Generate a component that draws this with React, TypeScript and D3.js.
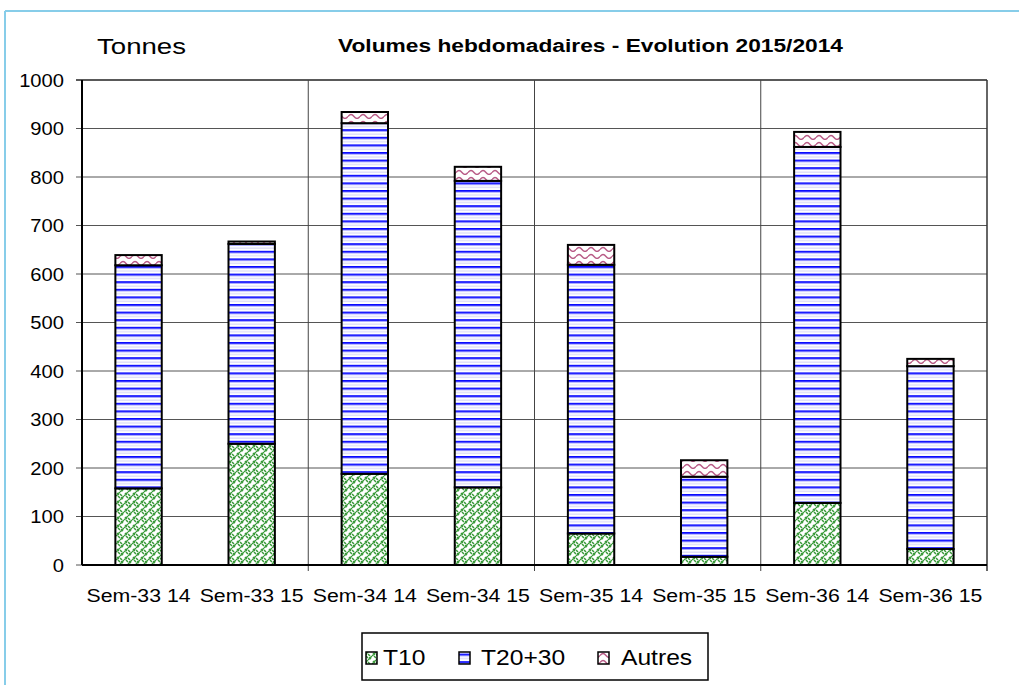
import React from "react";
import * as d3 from "d3";

const categories = ["Sem-33 14", "Sem-33 15", "Sem-34 14", "Sem-34 15", "Sem-35 14", "Sem-35 15", "Sem-36 14", "Sem-36 15"];
const t10 = [158, 250, 188, 160, 65, 17, 128, 33];
const t2030 = [460, 412, 723, 632, 554, 165, 734, 377];
const autres = [21, 5, 23, 29, 41, 34, 31, 15];
const seriesNames = ["T10", "T20+30", "Autres"];
const yTicks = [0, 100, 200, 300, 400, 500, 600, 700, 800, 900, 1000];
const titleText = "Volumes hebdomadaires - Evolution 2015/2014";
const unitText = "Tonnes";

const W = 1019;
const H = 685;
const left = 82, right = 987, top = 80, bottom = 565;
const FONT = "Arial, 'Liberation Sans', sans-serif";
const SX = 1.12;

export default function App() {
  const x = d3.scaleBand<string>().domain(categories).range([left, right]).paddingInner(0.59).paddingOuter(0.295);
  const y = d3.scaleLinear().domain([0, 1000]).range([bottom, top]);
  const step = x.step();
  const series = [t10, t2030, autres];
  const fills = ["url(#pT10)", "url(#pT20)", "url(#pAut)"];
  const stacks = categories.map((c, i) => {
    let acc = 0;
    return series.map((s, k) => {
      const y0 = acc;
      acc += s[i];
      return { k, y0, y1: acc };
    });
  });
  const vLines = [2, 4, 6].map((i) => (x(categories[i]) as number) - (step * x.paddingInner()) / 2);
  const sText = (tx: number, ty: number) => `translate(${tx},${ty}) scale(${SX},1)`;

  const legendItems = [
    { sx: 366, tx: 383 },
    { sx: 459, tx: 481 },
    { sx: 598, tx: 621 },
  ];

  return (
    <svg width={W} height={H} style={{ position: "absolute", left: 0, top: 0, background: "#fff" }}>
      <defs>
        <pattern id="pT10" patternUnits="userSpaceOnUse" width="8" height="8">
          <rect width="8" height="8" fill="#fff" />
          <path d="M0,4 L4,0 M4,8 L8,4 M1,1 L3,3 M5,5 L7,7 M6,0 L8,2 M0,6 L2,8" stroke="#3a9a3a" strokeWidth="1.5" fill="none" />
        </pattern>
        <pattern id="pT20" patternUnits="userSpaceOnUse" width="8" height="7.6">
          <rect width="8" height="7.6" fill="#fff" />
          <rect y="0" width="8" height="1.8" fill="#0a0aff" />
          <rect y="1.8" width="8" height="0.8" fill="#9a9aff" />
          <rect y="4.4" width="8" height="1" fill="#d0d0f6" />
        </pattern>
        <pattern id="pAut" patternUnits="userSpaceOnUse" width="12" height="7">
          <rect width="12" height="7" fill="#fff" />
          <path d="M0,4.5 Q3,0.5 6,4.5 T12,4.5" stroke="#b85a86" strokeWidth="1.3" fill="none" />
        </pattern>
      </defs>

      {/* outer border */}
      <line x1={5} y1={11} x2={W} y2={11} stroke="#87cde9" strokeWidth={2} />
      <line x1={5} y1={11} x2={5} y2={H} stroke="#87cde9" strokeWidth={2} />

      {/* titles */}
      <text x={97} y={54} fontFamily={FONT} fontSize={22} textLength={89} lengthAdjust="spacingAndGlyphs" fill="#000">{unitText}</text>
      <text x={338} y={52} fontFamily={FONT} fontSize={18} fontWeight="bold" textLength={505} lengthAdjust="spacingAndGlyphs" fill="#000">{titleText}</text>

      {/* horizontal gridlines */}
      {yTicks.map((t) => (
        <g key={t}>
          <line x1={left - 6} x2={right} y1={y(t)} y2={y(t)} stroke={t === 1000 ? "#222" : "#555"} strokeWidth={t === 1000 ? 1.5 : 1} />
          <text transform={sText(64, y(t) + 6.5)} textAnchor="end" fontFamily={FONT} fontSize={18} fill="#000">{t}</text>
        </g>
      ))}
      {/* vertical gridlines */}
      {vLines.map((vx, i) => (
        <line key={i} x1={vx} x2={vx} y1={top} y2={bottom + 6} stroke="#444" strokeWidth={1} />
      ))}
      <line x1={right} x2={right} y1={top} y2={bottom + 6} stroke="#333" strokeWidth={1.5} />

      {/* bars */}
      {categories.map((c, i) => (
        <g key={c}>
          {stacks[i].map((s) => (
            <rect key={s.k} x={x(c)} width={x.bandwidth()} y={y(s.y1)} height={y(s.y0) - y(s.y1)} fill={fills[s.k]} stroke="#000" strokeWidth={2} />
          ))}
        </g>
      ))}

      {/* axes */}
      <line x1={left} x2={left} y1={top} y2={bottom} stroke="#000" strokeWidth={2} />
      <line x1={left} x2={right} y1={bottom} y2={bottom} stroke="#000" strokeWidth={2} />

      {/* x labels */}
      {categories.map((c) => (
        <text key={c} transform={sText((x(c) as number) + x.bandwidth() / 2, 602)} textAnchor="middle" fontFamily={FONT} fontSize={19} fill="#000">{c}</text>
      ))}

      {/* legend */}
      <rect x={362} y={633} width={346} height={47} fill="#fff" stroke="#000" strokeWidth={1.5} />
      {seriesNames.map((n, k) => (
        <g key={n}>
          <rect x={legendItems[k].sx} y={652} width={11} height={12} fill={fills[k]} stroke="#000" strokeWidth={1.5} />
          <text transform={sText(legendItems[k].tx, 665)} fontFamily={FONT} fontSize={22} fill="#000">{n}</text>
        </g>
      ))}
    </svg>
  );
}
